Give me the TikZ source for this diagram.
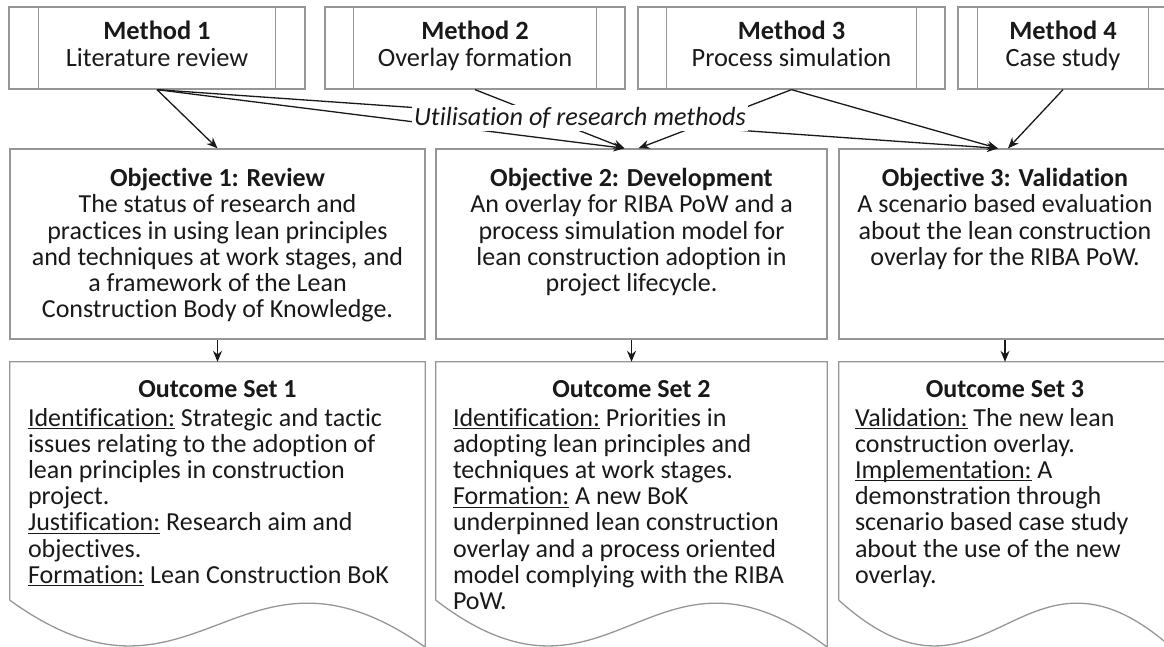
\documentclass[tikz,border=0pt]{standalone}
\usepackage{fontspec}
\setmainfont[Ligatures=NoCommon]{Carlito}
\usetikzlibrary{arrows.meta,calc,positioning}
\definecolor{boxgrey}{RGB}{150,150,150}
\definecolor{inkgrey}{RGB}{25,25,25}
\newcommand{\undl}[1]{\setbox0\hbox{#1}\rlap{\rule[-3pt]{\wd0}{1pt}}\box0\relax}
\begin{document}
\begin{tikzpicture}[x=1pt, y=-1pt,
    boxline/.style={draw=boxgrey, line width=1.3pt},
    methbox/.style={boxline, minimum height=82pt, inner sep=0pt, align=center, text=inkgrey, text height=50pt, text depth=13pt, font=\fontsize{26.4}{27}\selectfont},
    objbox/.style={boxline, minimum height=190pt, inner sep=0pt},
    outbox/.style={minimum height=238pt, inner sep=0pt},
    boxtext/.style={inner sep=0pt, text=inkgrey, font=\fontsize{26}{26.2}\selectfont},
    arr/.style={-{Stealth[length=11pt,width=9pt]}, line width=1.3pt, draw=inkgrey}]
    \useasboundingbox (0,0) rectangle (1164,647);
    \node[methbox, minimum width=296pt] (m1) at (157,48) {\textbf{Method 1}\\Literature review};
    \node[methbox, minimum width=300pt] (m2) at (475,48) {\textbf{Method 2}\\Overlay formation};
    \node[methbox, minimum width=307pt] (m3) at (791.5,48) {\textbf{Method 3}\\Process simulation};
    \node[methbox, minimum width=210pt] (m4) at (1063,48) {\textbf{Method 4}\\Case study};
    \foreach \n/\d in {m1/30, m2/29, m3/29, m4/20}{
        \draw[boxline] ([xshift=\d pt]\n.north west) -- ([xshift=\d pt]\n.south west);
        \draw[boxline] ([xshift=-\d pt]\n.north east) -- ([xshift=-\d pt]\n.south east);
    }
    \node[objbox, minimum width=415pt] (obj1) at (217.5,244) {};
    \node[objbox, minimum width=391pt] (obj2) at (631.5,244) {};
    \node[objbox, minimum width=332pt] (obj3) at (1005,244) {};
    \node[boxtext, align=center, below=20pt of obj1.north] (obj1txt) {\textbf{Objective 1: Review}\\The status of research and\\practices in using lean principles\\and techniques at work stages, and\\a framework of the Lean\\Construction Body of Knowledge.};
    \node[boxtext, align=center, below=20pt of obj2.north] (obj2txt) {\textbf{Objective 2: Development}\\An overlay for RIBA PoW and a\\process simulation model for\\lean construction adoption in\\project lifecycle.};
    \node[boxtext, align=center, below=20pt of obj3.north] (obj3txt) {\textbf{Objective 3: Validation}\\A scenario based evaluation\\about the lean construction\\overlay for the RIBA PoW.};
    \node[outbox, minimum width=415pt] (out1) at (217.5,481) {};
    \node[outbox, minimum width=391pt] (out2) at (631.5,481) {};
    \node[outbox, minimum width=332pt] (out3) at (1005,481) {};
    \foreach \n in {out1, out2, out3}{
        \draw[boxline] (\n.south west) -- (\n.north west) -- (\n.north east) -- ([yshift=-47pt]\n.south east)
            .. controls ($(\n.south west)!0.55!(\n.south east)+(0,-85)$) and ($(\n.south west)!0.45!(\n.south east)+(0,135)$) .. (\n.south west);
    }
    \node[boxtext, below=18pt of out1.north] (out1ttl) {\textbf{Outcome Set 1}};
    \node[boxtext, below=18pt of out2.north] (out2ttl) {\textbf{Outcome Set 2}};
    \node[boxtext, below=18pt of out3.north] (out3ttl) {\textbf{Outcome Set 3}};
    \node[boxtext, align=left, below right=46pt and 18pt of out1.north west] (out1txt) {\undl{Identification:} Strategic and tactic\\issues relating to the adoption of\\lean principles in construction\\project.\\\undl{Justification:} Research aim and\\objectives.\\\undl{Formation:} Lean Construction BoK};
    \node[boxtext, align=left, below right=46pt and 17pt of out2.north west] (out2txt) {\undl{Identification:} Priorities in\\adopting lean principles and\\techniques at work stages.\\\undl{Formation:} A new BoK\\underpinned lean construction\\overlay and a process oriented\\model complying with the RIBA\\PoW.};
    \node[boxtext, align=left, below right=46pt and 16pt of out3.north west] (out3txt) {\undl{Validation:} The new lean\\construction overlay.\\\undl{Implementation:} A\\demonstration through\\scenario based case study\\about the use of the new\\overlay.};
    \coordinate (o2l) at ([xshift=-7pt]obj2.north);
    \coordinate (o2r) at ([xshift=7pt]obj2.north);
    \coordinate (o3l) at ([xshift=-7pt]obj3.north);
    \coordinate (o3r) at ([xshift=3pt]obj3.north);
    \draw[arr] (m1.south) -- (obj1.north);
    \draw[arr] (m1.south) -- (o2l);
    \draw[arr] (m1.south) -- (o3l);
    \draw[arr] (m2.south) -- (o2l);
    \draw[arr] (m3.south) -- (o2r);
    \draw[arr] (m3.south) -- (o3l);
    \draw[arr] (m4.south) -- (o3r);
    \node[boxtext, fill=white, inner sep=2pt, font=\fontsize{26.2}{27}\selectfont\itshape] (util) at (580,118) {Utilisation of research methods};
    \foreach \n in {1,2,3}{
        \draw[arr] (obj\n.south) -- (out\n.north);
    }
\end{tikzpicture}
\end{document}
